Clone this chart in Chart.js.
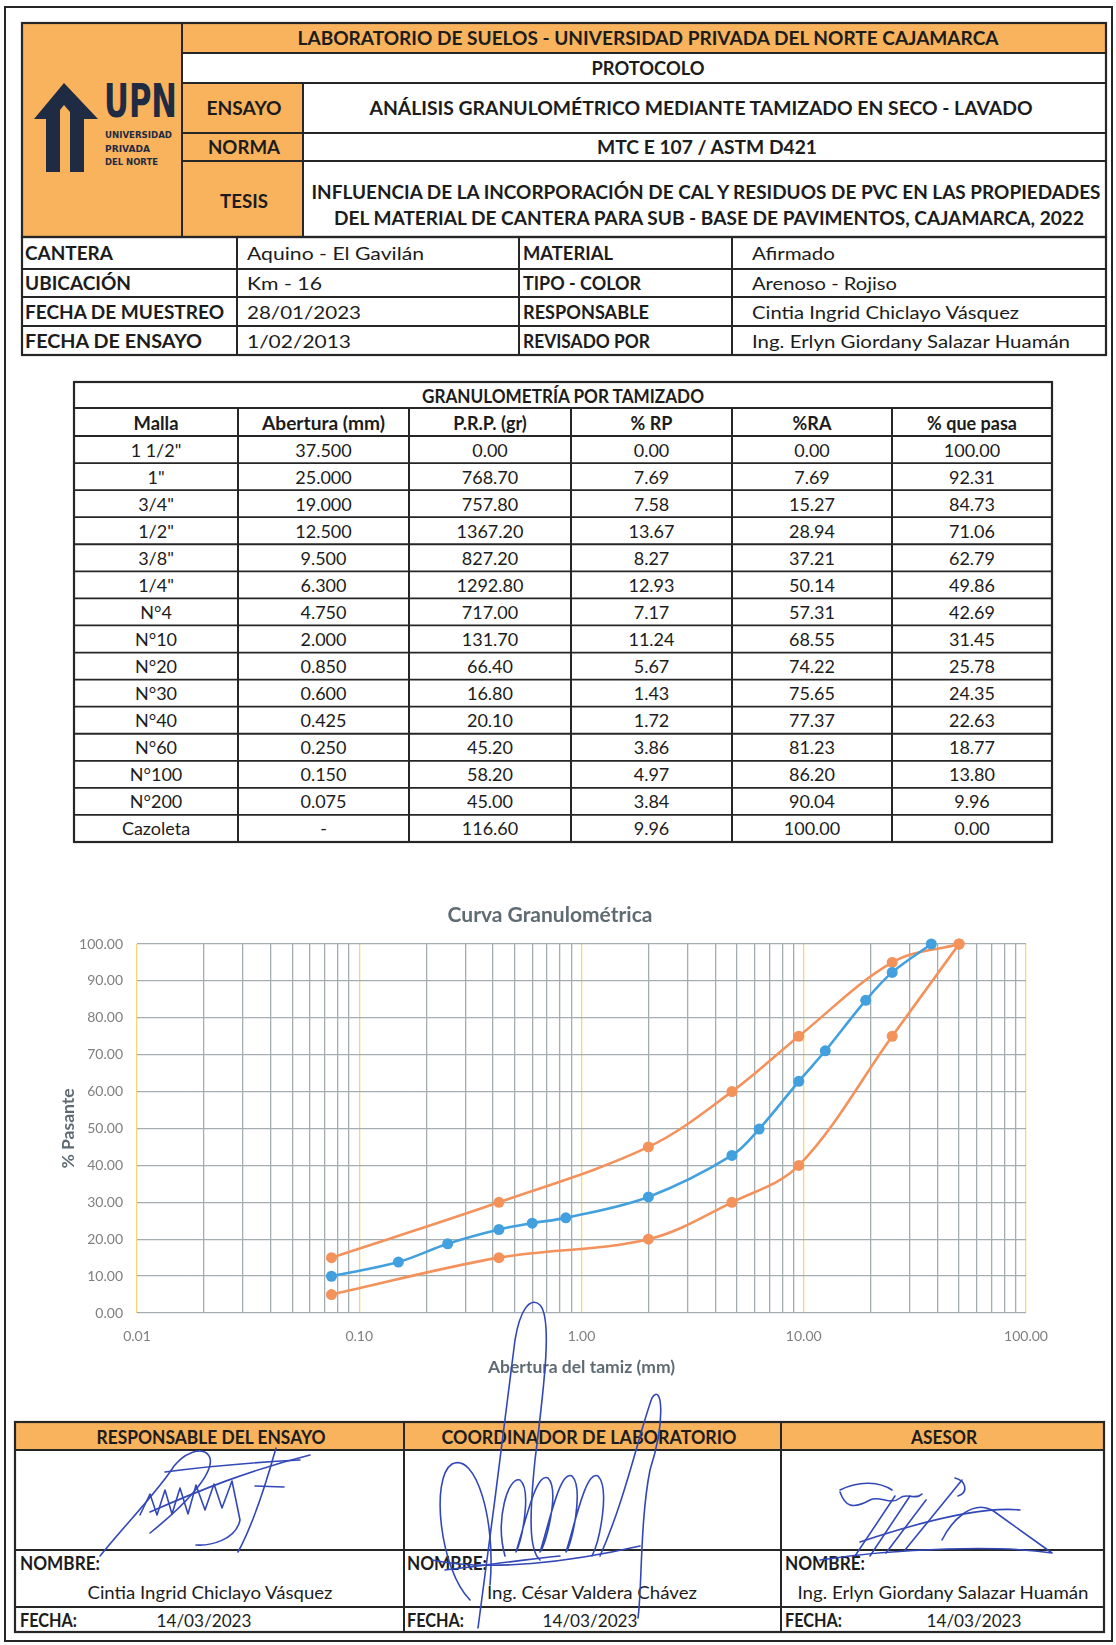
<!DOCTYPE html>
<html lang="es">
<head>
<meta charset="utf-8">
<title>Análisis granulométrico</title>
<script src="https://cdn.jsdelivr.net/npm/chart.js@4.4.0/dist/chart.umd.min.js"></script>
<style>
html,body{margin:0;padding:0;background:#fff;}
body{width:1116px;height:1645px;position:relative;overflow:hidden;font-family:Lato,"Open Sans",sans-serif;}
#doc,#sig{position:absolute;left:0;top:0;}
#sig{pointer-events:none;}
#chartBox{position:absolute;left:0;top:880px;width:1116px;height:520px;}
</style>
</head>
<body>
<svg id="doc" width="1116" height="1645" xmlns="http://www.w3.org/2000/svg"></svg>
<div id="chartBox"><canvas id="chart" width="1116" height="520"></canvas></div>
<svg id="sig" width="1116" height="1645" xmlns="http://www.w3.org/2000/svg"></svg>
<script>
// ---------------- DATA ----------------
const mallas = ['1 1/2"', '1"', '3/4"', '1/2"', '3/8"', '1/4"', 'N°4', 'N°10', 'N°20', 'N°30', 'N°40', 'N°60', 'N°100', 'N°200', 'Cazoleta'];
const aberturas = [37.5, 25.0, 19.0, 12.5, 9.5, 6.3, 4.75, 2.0, 0.85, 0.6, 0.425, 0.25, 0.15, 0.075, null];
const prp = [0.00, 768.70, 757.80, 1367.20, 827.20, 1292.80, 717.00, 131.70, 66.40, 16.80, 20.10, 45.20, 58.20, 45.00, 116.60];
const porcRP = [0.00, 7.69, 7.58, 13.67, 8.27, 12.93, 7.17, 11.24, 5.67, 1.43, 1.72, 3.86, 4.97, 3.84, 9.96];
const porcRA = [0.00, 7.69, 15.27, 28.94, 37.21, 50.14, 57.31, 68.55, 74.22, 75.65, 77.37, 81.23, 86.20, 90.04, 100.00];
const porcPasa = [100.00, 92.31, 84.73, 71.06, 62.79, 49.86, 42.69, 31.45, 25.78, 24.35, 22.63, 18.77, 13.80, 9.96, 0.00];

const limiteTamices = [50, 25, 9.5, 4.75, 2.0, 0.425, 0.075];
const limiteSuperior = [100, 95, 75, 60, 45, 30, 15];
const limiteInferior = [100, 75, 40, 30, 20, 15, 5];

const xDecadas = [0.01, 0.1, 1, 10, 100];
const xTickLabels = ['0.01', '0.10', '1.00', '10.00', '100.00'];

// ---------------- DOCUMENT (tables) ----------------
const NS = 'http://www.w3.org/2000/svg';
const doc = document.getElementById('doc');
const ORANGE = '#F8B35C', INK = '#1c1c1c', LINE = '#262626';
function el(parent, tag, attrs, txt){
  const e = document.createElementNS(NS, tag);
  for (const k in attrs) e.setAttribute(k, attrs[k]);
  if (txt !== undefined) e.textContent = txt;
  parent.appendChild(e); return e;
}
function fill(x1,y1,x2,y2,c){ el(doc,'rect',{x:x1,y:y1,width:x2-x1,height:y2-y1,fill:c}); }
function hl(y,x1,x2,w){ el(doc,'line',{x1:x1,y1:y,x2:x2,y2:y,stroke:LINE,'stroke-width':w||2}); }
function vl(x,y1,y2,w){ el(doc,'line',{x1:x,y1:y1,x2:x,y2:y2,stroke:LINE,'stroke-width':w||2}); }
function box(x1,y1,x2,y2,w){ el(doc,'rect',{x:x1,y:y1,width:x2-x1,height:y2-y1,fill:'none',stroke:LINE,'stroke-width':w||2}); }
function txt(s,x,y,o){
  o = o || {};
  const a = {x:x,y:y,'font-family':o.family||'Lato','font-size':o.size||18,'font-weight':o.bold?'700':'400',
    'text-anchor':o.anchor||'middle','dominant-baseline':'central',fill:o.color||INK};
  if (o.len){ a.textLength = o.len; a.lengthAdjust = 'spacingAndGlyphs'; }
  return el(doc,'text',a,s);
}

// page border
box(5,7,1112,1641,2);

// header block
fill(22,23,182,237,ORANGE);
fill(182,23,1106,53,ORANGE);
fill(182,83,303,237,ORANGE);
box(22,23,1106,237,2.2);
[53,83,133,161].forEach(y=>hl(y,182,1106));
vl(182,23,237); vl(303,83,237);

// logo
const NAVY = '#1f2a43';
el(doc,'polygon',{points:'34,119 64,83 98,119 84,119 84,172 70,172 70,112 64,105 60,110 60,172 46,172 46,119',fill:NAVY});
txt('UPN',104,101,{family:'"Liberation Sans Narrow","DejaVu Sans Condensed",sans-serif',size:46,bold:true,anchor:'start',len:73,color:NAVY});
txt('UNIVERSIDAD',105,134,{family:'"DejaVu Sans Condensed",sans-serif',size:9.5,bold:true,anchor:'start',len:67,color:NAVY});
txt('PRIVADA',105,148,{family:'"DejaVu Sans Condensed",sans-serif',size:9.5,bold:true,anchor:'start',len:45,color:NAVY});
txt('DEL NORTE',105,161,{family:'"DejaVu Sans Condensed",sans-serif',size:9.5,bold:true,anchor:'start',len:53,color:NAVY});

txt('LABORATORIO DE SUELOS - UNIVERSIDAD PRIVADA DEL NORTE CAJAMARCA',648,38,{bold:true,len:701});
txt('PROTOCOLO',648,68,{bold:true,len:113});
txt('ENSAYO',244,108,{bold:true,len:75,size:18.5});
txt('ANÁLISIS GRANULOMÉTRICO MEDIANTE TAMIZADO EN SECO - LAVADO',701,108,{bold:true,len:663});
txt('NORMA',244,147,{bold:true,len:72,size:18.5});
txt('MTC E 107 / ASTM D421',707,147,{bold:true,len:220});
txt('TESIS',244,201,{bold:true,len:48,size:18.5});
txt('INFLUENCIA DE LA INCORPORACIÓN DE CAL Y RESIDUOS DE PVC EN LAS PROPIEDADES',706,192,{bold:true,len:789});
txt('DEL MATERIAL DE CANTERA PARA SUB - BASE DE PAVIMENTOS, CAJAMARCA, 2022',709,218,{bold:true,len:750});

// info table
box(22,237,1106,355,2.2);
[269,297,326].forEach(y=>hl(y,22,1106));
[237,519,732].forEach(x=>vl(x,237,355));
const infoRows = [253,283,311.5,340.5];
const infoL1 = [['CANTERA',88],['UBICACIÓN',106],['FECHA DE MUESTREO',199],['FECHA DE ENSAYO',177]];
const infoV1 = [['Aquino - El Gavilán',177],['Km - 16',75],['28/01/2023',114],['1/02/2013',104]];
const infoL2 = [['MATERIAL',90],['TIPO - COLOR',118],['RESPONSABLE',126],['REVISADO POR',127]];
const infoV2 = [['Afirmado',83],['Arenoso - Rojiso',145],['Cintia Ingrid Chiclayo Vásquez',267],['Ing. Erlyn Giordany Salazar Huamán',318]];
infoRows.forEach((y,i)=>{
  txt(infoL1[i][0],25,y,{bold:true,anchor:'start',len:infoL1[i][1]});
  txt(infoV1[i][0],247,y,{anchor:'start',len:infoV1[i][1]});
  txt(infoL2[i][0],523,y,{bold:true,anchor:'start',len:infoL2[i][1]});
  txt(infoV2[i][0],752,y,{anchor:'start',len:infoV2[i][1]});
});

// granulometry table
const gx = [74,238,409,571,732,892,1052];
const gTop = 382, gTitleB = 408, gHeadB = 436, gBot = 842;
box(gx[0],gTop,gx[6],gBot,2.2);
hl(gTitleB,gx[0],gx[6]); hl(gHeadB,gx[0],gx[6]);
for (let i=1;i<gx.length-1;i++) vl(gx[i],gTitleB,gBot);
txt('GRANULOMETRÍA POR TAMIZADO',563,395.5,{bold:true,len:282});
const heads = [['Malla',45],['Abertura (mm)',123],['P.R.P. (gr)',null],['% RP',null],['%RA',null],['% que pasa',null]];
heads.forEach((h,i)=>txt(h[0],(gx[i]+gx[i+1])/2,422.5,{bold:true,len:h[1]||undefined}));
const rowH = (gBot-gHeadB)/mallas.length;
mallas.forEach((m,r)=>{
  const y0 = gHeadB + r*rowH;
  if (r>0) hl(y0,gx[0],gx[6],1.8);
  const cy = y0 + rowH/2;
  const vals = [m, aberturas[r]===null?'-':aberturas[r].toFixed(3), prp[r].toFixed(2), porcRP[r].toFixed(2), porcRA[r].toFixed(2), porcPasa[r].toFixed(2)];
  vals.forEach((v,c)=>txt(v,(gx[c]+gx[c+1])/2,cy,{size:18}));
});

// signature table
fill(15,1422,1104,1450,ORANGE);
box(15,1422,1104,1632,2.2);
[1450,1550,1607].forEach(y=>hl(y,15,1104));
vl(404,1422,1632); vl(781,1422,1632);
txt('RESPONSABLE DEL ENSAYO',211,1437,{bold:true,len:229});
txt('COORDINADOR DE LABORATORIO',589,1437,{bold:true,len:295});
txt('ASESOR',944,1437,{bold:true,len:66});
[20,407,785].forEach(x=>{
  txt('NOMBRE:',x,1563,{bold:true,anchor:'start',len:80});
  txt('FECHA:',x,1620,{bold:true,anchor:'start',len:57});
});
txt('Cintia Ingrid Chiclayo Vásquez',210,1592,{len:245});
txt('Ing. César Valdera Chávez',592,1592,{len:210});
txt('Ing. Erlyn Giordany Salazar Huamán',943,1592,{len:291});
txt('14/03/2023',204,1620,{len:95});
txt('14/03/2023',590,1620,{len:95});
txt('14/03/2023',974,1620,{len:95});

// signatures (decorative ink strokes)
const sig = document.getElementById('sig');
const INKB = '#3348b8';
const sigPaths = [
  // responsable
  'M100,1556 C125,1525 150,1500 170,1472 C182,1452 205,1444 210,1458 C214,1474 185,1505 150,1533',
  'M165,1472 C210,1466 260,1462 300,1460',
  'M150,1512 C200,1490 250,1470 310,1455',
  'M140,1515 L150,1494 L157,1515 L165,1490 L172,1514 L180,1488 L188,1514 L196,1485 L205,1510 L214,1484 L222,1508 L232,1481 L240,1520 C236,1540 210,1546 196,1545',
  'M238,1552 C250,1530 262,1498 276,1448',
  'M255,1486 L284,1487',
  // coordinador
  'M478,1628 C490,1540 505,1420 515,1340 C520,1310 530,1296 540,1305 C552,1318 545,1380 535,1460 C530,1510 528,1550 540,1560',
  'M470,1600 C440,1570 430,1478 452,1464 C476,1452 496,1520 490,1585',
  'M505,1556 C495,1520 508,1476 520,1480 C532,1490 522,1540 516,1552 C526,1520 536,1472 548,1478 C560,1490 546,1545 540,1552 C550,1520 560,1470 572,1476 C584,1488 572,1545 566,1552 C576,1520 586,1470 598,1476 C610,1488 600,1540 592,1556',
  'M600,1556 C625,1500 640,1430 652,1398 C662,1382 666,1420 650,1470 C640,1520 642,1590 638,1618',
  'M432,1560 C490,1572 570,1562 640,1546',
  'M445,1570 C480,1566 520,1560 560,1556',
  // asesor
  'M840,1490 C860,1480 880,1482 892,1490 M840,1492 C845,1506 852,1510 870,1500 C880,1495 890,1506 900,1498 C906,1492 915,1501 922,1494',
  'M855,1556 L895,1496 M870,1556 L910,1496 M886,1553 L926,1500 M905,1550 L962,1480',
  'M820,1560 C900,1548 1000,1545 1052,1553 L992,1510 C972,1500 952,1520 942,1540',
  'M860,1542 C920,1522 980,1506 1020,1510',
  'M955,1478 C966,1481 969,1492 958,1496'
];
sigPaths.forEach(d=>el(sig,'path',{d:d,fill:'none',stroke:INKB,'stroke-width':1.6,'stroke-linecap':'round','stroke-linejoin':'round'}));

// ---------------- CHART ----------------
const BLUE = '#42A0DF', ORG = '#F4925C', GRID = '#A4ADB0', YEL = '#F8D672', TXT = '#7f7f7f', TTL = '#5f6b73';
Chart.defaults.font.family = 'Lato';

const muestraPts = aberturas.map((a,i)=>a===null?null:{x:a,y:porcPasa[i]}).filter(p=>p);
const supPts = limiteTamices.map((a,i)=>({x:a,y:limiteSuperior[i]}));
const infPts = limiteTamices.map((a,i)=>({x:a,y:limiteInferior[i]}));

function minorTicks(){
  const t = [];
  for (let e=-2;e<2;e++) for (let k=1;k<10;k++) t.push(+(k*Math.pow(10,e)).toPrecision(3));
  t.push(100);
  return t;
}
const isDecade = v => xDecadas.some(d=>Math.abs(d-v)/d < 1e-6);

const ds = (label,data,color)=>({label,data,borderColor:color,backgroundColor:color,pointBackgroundColor:color,
  pointBorderWidth:0,pointRadius:5.5,pointHoverRadius:5.5,borderWidth:2.6,tension:0.35,clip:false,fill:false});

new Chart(document.getElementById('chart'), {
  type:'line',
  data:{datasets:[ds('% que pasa',muestraPts,BLUE), ds('Límite superior',supPts,ORG), ds('Límite inferior',infPts,ORG)]},
  options:{
    responsive:false, animation:false, devicePixelRatio:1,
    layout:{padding:{left:74,right:90,top:0,bottom:18.5}},
    plugins:{
      legend:{display:false}, tooltip:{enabled:false},
      title:{display:true,text:'Curva Granulométrica',color:TTL,font:{size:21,weight:'bold'},padding:{top:22.4,bottom:16.4}}
    },
    scales:{
      x:{type:'logarithmic',min:0.01,max:100,
        afterBuildTicks:s=>{ s.ticks = minorTicks().map(v=>({value:v})); },
        afterFit:s=>{ s.height = 68.5; },
        ticks:{autoSkip:false,maxRotation:0,padding:15,color:TXT,font:{size:14},
          callback:(v)=>{ const i = xDecadas.findIndex(d=>Math.abs(d-v)/d<1e-6); return i<0?'':xTickLabels[i]; }},
        grid:{drawTicks:false,lineWidth:1.3,color:c=>isDecade(c.tick.value)?YEL:GRID},
        border:{display:false},
        title:{display:true,text:'Abertura del tamiz (mm)',color:TTL,font:{size:17.5,weight:'bold'},padding:{top:4,bottom:4}}
      },
      y:{min:0,max:100,
        afterFit:s=>{ s.width = 63; },
        ticks:{stepSize:10,padding:14,color:TXT,font:{size:14},callback:v=>Number(v).toFixed(2)},
        grid:{drawTicks:false,lineWidth:1.3,color:GRID},
        border:{display:false},
        title:{display:true,text:'% Pasante',color:TTL,font:{size:17.5,weight:'bold'},padding:{top:-16,bottom:4}}
      }
    }
  }
});
</script>
</body>
</html>
